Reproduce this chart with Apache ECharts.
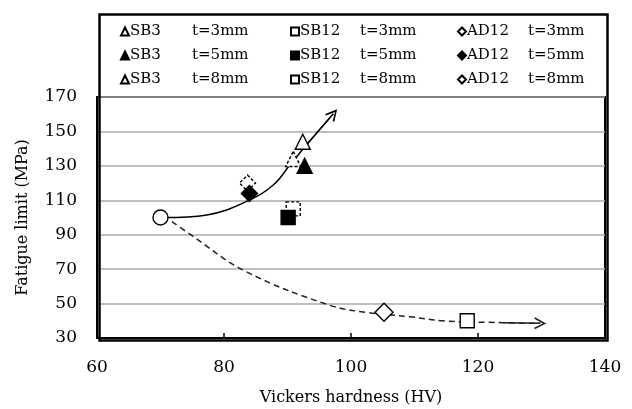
<!DOCTYPE html>
<html><head><meta charset="utf-8">
<script src="https://cdn.jsdelivr.net/npm/echarts@6/dist/echarts.min.js"></script>
<style>html,body{margin:0;padding:0;background:#fff}#c{width:632px;height:409px}</style>
</head><body><div id="c"></div>
<script>
// ---- data ----
const xTicks = [60, 80, 100, 120, 140];
const yTicks = [30, 50, 70, 90, 110, 130, 150, 170];
const base = [[70, 100]];
const sb3_t3 = [[92.4, 144]];
const sb3_t5 = [[92.7, 130]];
const sb3_t8 = [[90.9, 134]];
const sb12_t3 = [[118.3, 40]];
const sb12_t5 = [[90.1, 100]];
const sb12_t8 = [[90.9, 105]];
const ad12_t3 = [[105.2, 45]];
const ad12_t5 = [[84, 114]];
const ad12_t8 = [[83.7, 120]];
const upCurve = [[70.5, 100], [77.3, 101.5], [84.1, 110.2], [87.8, 119], [90.4, 130.6], [93, 142.2], [97.2, 160.2]];
const downCurve = [[71.8, 97.6], [74.8, 89.9], [83.2, 69.1], [96.5, 49.2], [102.8, 44.7], [109.2, 42.4], [114.4, 40], [124, 38.9], [129.8, 38.5]];

const FONT = 'DejaVu Serif';
const chevron = 'path://M0,12 L6,0 L12,12 L10.4,12.8 L6,3.6 L1.6,12.8 Z';

function marker(name, data, symbol, size, kind) {
  const style = { color: kind === 'filled' ? '#000' : '#fff', borderColor: '#000', borderWidth: 1.4, opacity: 1 };
  if (kind === 'dashed') style.borderType = [3, 2];
  return { type: 'scatter', name, data, symbol, symbolSize: size, itemStyle: style,
    emphasis: { disabled: true }, z: kind === 'dashed' ? 3 : 4 };
}

const legendRich = {
  a: { fontFamily: FONT, fontSize: 15, width: 60, color: '#000' },
  b: { fontFamily: FONT, fontSize: 15, color: '#000' }
};
function legendCol(left, names, aw) {
  return {
    orient: 'vertical', left, top: 19, itemWidth: 8, itemHeight: 8, itemGap: 9, data: names,
    selectedMode: false,
    formatter: n => { const p = n.split(' '); return '{a|' + p[0] + '}{b|' + p[1] + '}'; },
    textStyle: { rich: Object.assign({}, legendRich, { a: Object.assign({}, legendRich.a, { width: aw }) }), padding: [0, 0, 0, -4] }
  };
}

const chart = echarts.init(document.getElementById('c'));
chart.setOption({
  animation: false,
  backgroundColor: '#fff',
  grid: { left: 97, right: 27, top: 97, bottom: 71, show: true, borderColor: '#000', borderWidth: 2,
    containLabel: false, outerBoundsMode: 'none' },
  legend: [
    legendCol(115, ['SB3 t=3mm', 'SB3 t=5mm', 'SB3 t=8mm'], 62),
    legendCol(285, ['SB12 t=3mm', 'SB12 t=5mm', 'SB12 t=8mm'], 60),
    legendCol(452, ['AD12 t=3mm', 'AD12 t=5mm', 'AD12 t=8mm'], 61)
  ],
  xAxis: {
    type: 'value', min: xTicks[0], max: xTicks[xTicks.length - 1], interval: 20,
    name: 'Vickers hardness (HV)', nameLocation: 'middle', nameGap: 52,
    nameTextStyle: { fontFamily: FONT, fontSize: 16, color: '#000' },
    axisLine: { lineStyle: { color: '#000', width: 2 } },
    axisTick: { inside: true, length: 5, lineStyle: { color: '#000', width: 1.5 } },
    axisLabel: { fontFamily: FONT, fontSize: 17, color: '#000', margin: 21 },
    splitLine: { show: false }
  },
  yAxis: {
    type: 'value', min: yTicks[0], max: yTicks[yTicks.length - 1], interval: 20,
    name: 'Fatigue limit (MPa)', nameLocation: 'middle', nameGap: 66,
    nameTextStyle: { fontFamily: FONT, fontSize: 16, color: '#000' },
    axisLine: { lineStyle: { color: '#000', width: 2 } },
    axisTick: { show: false },
    axisLabel: { fontFamily: FONT, fontSize: 17, color: '#000', margin: 20 },
    splitLine: { lineStyle: { color: '#aaa', width: 1.5 } }
  },
  graphic: [{
    type: 'rect', left: 97, top: 12, shape: { width: 508, height: 326 },
    style: { fill: 'none', stroke: '#000', lineWidth: 2.5 }, silent: true, z: 10
  }],
  series: [
    { type: 'line', name: 'up', data: upCurve, smooth: 0.4, showSymbol: false, symbol: 'none',
      lineStyle: { color: '#000', width: 1.5 }, z: 2 },
    { type: 'lines', coordinateSystem: 'cartesian2d', name: 'upArrow',
      data: [{ coords: upCurve.slice(-2) }], symbol: ['none', chevron], symbolSize: [12, 12],
      lineStyle: { color: '#000', width: 1.5, opacity: 1 }, z: 2 },
    { type: 'line', name: 'down', data: downCurve, smooth: 0.4, showSymbol: false, symbol: 'none',
      lineStyle: { color: '#222', width: 1.5, type: [6, 4] }, z: 2 },
    { type: 'lines', coordinateSystem: 'cartesian2d', name: 'downArrow',
      data: [{ coords: downCurve.slice(-2) }], symbol: ['none', chevron], symbolSize: [12, 12],
      lineStyle: { color: '#222', width: 1.5, opacity: 1 }, z: 2 },
    marker('base', base, 'circle', 15, 'open'),
    marker('SB3 t=3mm', sb3_t3, 'triangle', 15, 'open'),
    marker('SB3 t=5mm', sb3_t5, 'triangle', 15, 'filled'),
    marker('SB3 t=8mm', sb3_t8, 'triangle', 15, 'dashed'),
    marker('SB12 t=3mm', sb12_t3, 'rect', 14, 'open'),
    marker('SB12 t=5mm', sb12_t5, 'rect', 14, 'filled'),
    marker('SB12 t=8mm', sb12_t8, 'rect', 14, 'dashed'),
    marker('AD12 t=3mm', ad12_t3, 'diamond', 18, 'open'),
    marker('AD12 t=5mm', ad12_t5, 'diamond', 16, 'filled'),
    marker('AD12 t=8mm', ad12_t8, 'diamond', 16, 'dashed')
  ]
});
</script></body></html>
